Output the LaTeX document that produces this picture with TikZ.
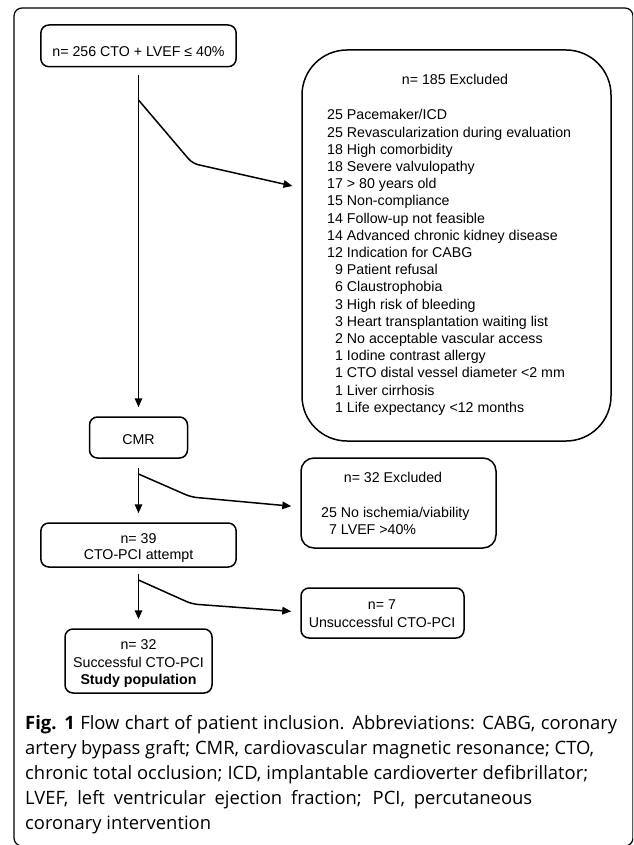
\documentclass[tikz,border=0pt]{standalone}
\usepackage{fontspec}
\setmainfont{Liberation Sans}
\newfontfamily\capfont{Open Sans}
\usetikzlibrary{arrows.meta}
\begin{document}
\begin{tikzpicture}[x=1pt,y=-1pt,
  box/.style={draw, line width=1.5pt, rounded corners=8pt, inner sep=0pt},
  txt/.style={inner sep=0pt, anchor=base, font=\fontsize{14.2}{17.2}\selectfont},
  arr/.style={line width=1.5pt, -{Triangle[length=9pt,width=7.5pt]}, shorten >=9pt},
  capt/.style={inner sep=0pt, anchor=base west, font=\capfont\fontsize{18.4}{25}\selectfont}
]
\useasboundingbox (0,0) rectangle (633,845);
\clip (0,0) rectangle (633,845);
\draw[line width=1.2pt, rounded corners=8pt] (14,8) rectangle (633,846);

% boxes
\node[box, minimum width=195.3pt, minimum height=41.7pt] (top) at (138.5,45.85) {};
\node[txt] (ttop) at (138.5,57) {n= 256 CTO + LVEF ≤ 40\%};

\node[box, rounded corners=45pt, minimum width=309pt, minimum height=391pt] (ex1) at (456.5,245.5) {};
\node[txt] (ex1t) at (455,85) {n= 185 Excluded};
\node[txt, anchor=base west] (ex1l) at (327,120) {\fontsize{14.2}{17.2}\selectfont
\begin{tabular}[t]{@{}r@{ }l@{}}
25 & Pacemaker/ICD\\
25 & Revascularization during evaluation\\
18 & High comorbidity\\
18 & Severe valvulopathy\\
17 & > 80 years old\\
15 & Non-compliance\\
14 & Follow-up not feasible\\
14 & Advanced chronic kidney disease\\
12 & Indication for CABG\\
9 & Patient refusal\\
6 & Claustrophobia\\
3 & High risk of bleeding\\
3 & Heart transplantation waiting list\\
2 & No acceptable vascular access\\
1 & Iodine contrast allergy\\
1 & CTO distal vessel diameter <2 mm\\
1 & Liver cirrhosis\\
1 & Life expectancy <12 months
\end{tabular}};

\node[box, minimum width=98pt, minimum height=41pt] (cmr) at (138.5,437.5) {};
\node[txt] (cmrt) at (138.5,444) {CMR};

\node[box, rounded corners=13pt, minimum width=195pt, minimum height=90pt] (ex2) at (398.5,503) {};
\node[txt] (ex2t) at (393,482) {n= 32 Excluded};
\node[txt, anchor=base west] (ex2l) at (321,517) {\fontsize{14.2}{17.2}\selectfont
\begin{tabular}[t]{@{}r@{ }l@{}}
25 & No ischemia/viability\\
7 & LVEF >40\%
\end{tabular}};

\node[box, minimum width=195.3pt, minimum height=44pt] (n39) at (138.5,545) {};
\node[txt] (n39a) at (138.5,543) {n= 39};
\node[txt] (n39b) at (138.5,559) {CTO-PCI attempt};

\node[box, minimum width=163pt, minimum height=50pt] (ex3) at (382.5,613) {};
\node[txt] (ex3a) at (382,609) {n= 7};
\node[txt] (ex3b) at (382,627) {Unsuccessful CTO-PCI};

\node[box, minimum width=147pt, minimum height=64pt] (n32) at (138.5,661) {};
\node[txt] (n32a) at (138.5,649) {n= 32};
\node[txt] (n32b) at (138.5,667) {Successful CTO-PCI};
\node[txt] (n32c) at (138.5,684) {\bfseries Study population};

% connectors
\draw[arr, shorten <=8pt] (top.south) -- (cmr.north);
\draw[arr, shorten <=9pt] (cmr.south) -- (n39.north);
\draw[arr, shorten <=6pt] (n39.south) -- (n32.north);

\coordinate (b1) at (138.5,100);
\coordinate (k1) at (192.4,163.4);
\coordinate (y1) at (0,188);
\draw[arr, rounded corners=6pt] (b1) -- (k1) -- (ex1.west |- y1);

\coordinate (b2) at (138.5,474);
\coordinate (k2) at (191,497);
\coordinate (y2) at (0,507);
\draw[arr, rounded corners=6pt] (b2) -- (k2) -- (ex2.west |- y2);

\coordinate (b3) at (138.5,580);
\coordinate (k3) at (192,604);
\coordinate (y3) at (0,612);
\draw[arr, rounded corners=6pt] (b3) -- (k3) -- (ex3.west |- y3);

% caption
\node[capt] (cap1) at (25,729) {\makebox[592pt][s]{{\bfseries Fig. 1} Flow chart of patient inclusion. Abbreviations: CABG, coronary}};
\node[capt] (cap2) at (25,754) {\makebox[569pt][s]{artery bypass graft; CMR, cardiovascular magnetic resonance; CTO,}};
\node[capt] (cap3) at (25,779.5) {\makebox[563pt][s]{chronic total occlusion; ICD, implantable cardioverter defibrillator;}};
\node[capt] (cap4) at (25,804.5) {\makebox[507pt][s]{LVEF, left ventricular ejection fraction; PCI, percutaneous}};
\node[capt] (cap5) at (25,829) {coronary intervention};
\end{tikzpicture}
\end{document}
